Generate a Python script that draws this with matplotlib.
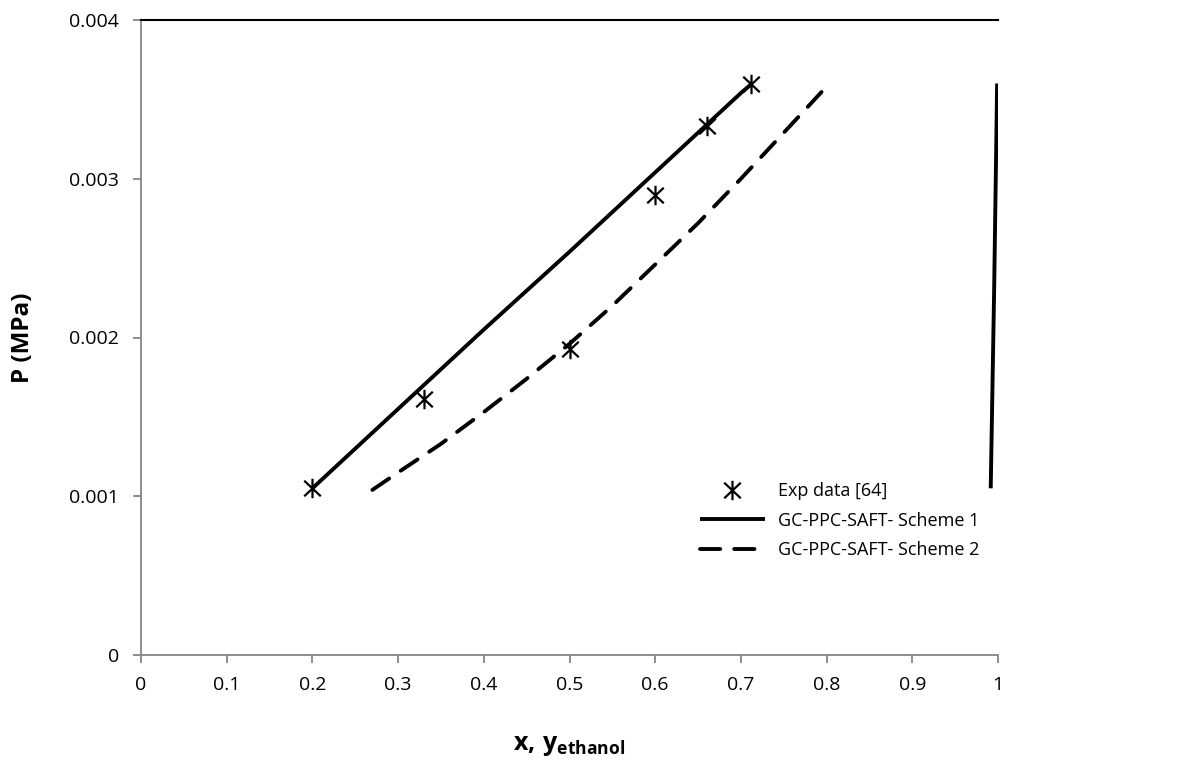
import matplotlib
matplotlib.use("Agg")
import matplotlib.pyplot as plt
from matplotlib.path import Path
import numpy as np

# ---- data ----
exp_x = [0.20, 0.33, 0.50, 0.60, 0.66, 0.712]
exp_p = [0.00105, 0.00161, 0.00193, 0.00290, 0.00333, 0.00360]

s1_bub_x = [0.20, 0.30, 0.40, 0.50, 0.60, 0.70, 0.713]
s1_bub_p = [0.00105, 0.00155, 0.00205, 0.00254, 0.00304, 0.00354, 0.00360]
s1_dew_x = [0.9915, 0.9955, 0.999]
s1_dew_p = [0.00105, 0.00230, 0.00360]

s2_bub_x = [0.27, 0.30, 0.35, 0.40, 0.45, 0.50, 0.55, 0.60, 0.65, 0.70, 0.75, 0.805]
s2_bub_p = [0.00104, 0.00115, 0.00133, 0.00153, 0.00174, 0.00196, 0.00220, 0.00246,
            0.00272, 0.00300, 0.00329, 0.00361]

xticks = [0, 0.1, 0.2, 0.3, 0.4, 0.5, 0.6, 0.7, 0.8, 0.9, 1]
xticklabels = ["0", "0.1", "0.2", "0.3", "0.4", "0.5", "0.6", "0.7", "0.8", "0.9", "1"]
yticks = [0, 0.001, 0.002, 0.003, 0.004]
yticklabels = ["0", "0.001", "0.002", "0.003", "0.004"]

plt.rcParams['font.family'] = ['Open Sans', 'DejaVu Sans']
plt.rcParams['mathtext.fontset'] = 'custom'
plt.rcParams['mathtext.bf'] = 'Open Sans:bold'
plt.rcParams['mathtext.rm'] = 'Open Sans'

fig = plt.figure(figsize=(11.86, 7.8), dpi=100)
ax = fig.add_axes([141/1186, 1-655/780, (998-141)/1186, (655-20)/780])

# asterisk marker: vertical line + two diagonals
star = Path([(0, -1), (0, 1), (-0.85, -0.8), (0.85, 0.8), (-0.85, 0.8), (0.85, -0.8)],
            [Path.MOVETO, Path.LINETO, Path.MOVETO, Path.LINETO, Path.MOVETO, Path.LINETO])

ax.plot(exp_x, exp_p, linestyle='none', marker=star, markersize=14,
        markeredgewidth=1.6, color='black', label='Exp data [64]', zorder=5)
ax.plot(s1_bub_x, s1_bub_p, color='black', lw=2.8, solid_capstyle='butt',
        label='GC-PPC-SAFT- Scheme 1')
ax.plot(s1_dew_x, s1_dew_p, color='black', lw=2.8, solid_capstyle='butt')
ax.plot(s2_bub_x, s2_bub_p, color='black', lw=2.8, dashes=(5.2, 3.6),
        dash_capstyle='round', label='GC-PPC-SAFT- Scheme 2')

ax.set_xlim(0, 1)
ax.set_ylim(0, 0.004)
ax.set_xticks(xticks)
ax.set_xticklabels(xticklabels)
ax.set_yticks(yticks)
ax.set_yticklabels(yticklabels)

for s in ['left', 'bottom']:
    ax.spines[s].set_color('#868686')
    ax.spines[s].set_linewidth(1.3)
ax.spines['right'].set_visible(False)
ax.spines['top'].set_color('black')
ax.spines['top'].set_linewidth(1.5)

ax.tick_params(axis='both', direction='out', length=6, width=1.3, color='#868686',
               labelsize=14, labelcolor='black')
ax.tick_params(axis='x', pad=9)
ax.tick_params(axis='y', pad=10)

ax.set_xlabel(r'$\mathbf{x,\!\;y_{ethanol}}$', fontsize=18, labelpad=28)
ax.set_ylabel('P (MPa)', fontsize=17.5, fontweight='bold', labelpad=24)

leg = ax.legend(loc='upper left', bbox_to_anchor=(0.633, 0.298), frameon=False,
                fontsize=13, handlelength=3.6, handletextpad=0.75, labelspacing=0.65)

fig.savefig('out.png', dpi=100)
